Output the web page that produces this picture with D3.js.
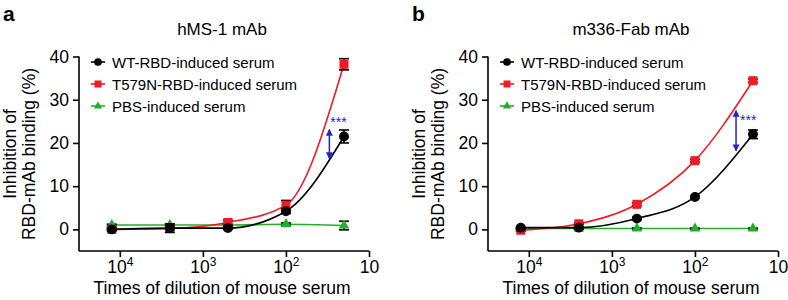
<!DOCTYPE html>
<html lang="en">
<head>
    <meta charset="UTF-8">
    <title>Inhibition of RBD-mAb binding</title>
    <script src="https://d3js.org/d3.v7.min.js"></script>
    <style>
        body, html { margin: 0; padding: 0; background: #fff; overflow: hidden; }
        svg { display: block; font-family: "Liberation Sans", Arial, sans-serif; }
    </style>
</head>
<body>
    <svg width="788" height="300"></svg>
    <script>
        const width = 788, height = 300;

        // dilution factors (5-fold series)
        const dilutions = [12500, 2500, 500, 100, 20];
        const xTicks = [10000, 1000, 100, 10];
        const yTicks = [0, 10, 20, 30, 40];
        const seriesNames = ["WT-RBD-induced serum", "T579N-RBD-induced serum", "PBS-induced serum"];
        const colors = ["#000000", "#ee1c24", "#22b02a"];

        // panel a: hMS-1 mAb
        const aWT = [0.0, 0.3, 0.3, 4.2, 21.5];
        const aWTErr = [0.3, 1.0, 0.3, 0.5, 1.5];
        const aT579N = [0.0, 0.2, 1.6, 5.6, 38.2];
        const aT579NErr = [0.2, 0.3, 0.5, 1.1, 1.3];
        const aPBS = [1.0, 1.0, 1.0, 1.2, 0.9];
        const aPBSErr = [0.2, 0.2, 0.2, 0.3, 1.0];

        // panel b: m336-Fab mAb
        const bWT = [0.4, 0.4, 2.5, 7.5, 22.0];
        const bWTErr = [0.2, 0.2, 0.3, 0.3, 1.0];
        const bT579N = [-0.2, 1.3, 5.8, 15.9, 34.4];
        const bT579NErr = [0.2, 0.2, 0.3, 0.3, 0.4];
        const bPBS = [0.2, 0.2, 0.2, 0.2, 0.2];
        const bPBSErr = [0.1, 0.1, 0.1, 0.1, 0.1];

        // significance arrows: [dilution, low, high, star baseline]
        const aArrow = [30, 16.2, 23.3, 23.7];
        const bArrow = [32, 18.0, 27.7, 24.2];

        const svg = d3.select("svg");

        function drawPanel(ox, letter, title, series, errs, arrow, starDx) {
            const g = svg.append("g").attr("transform", `translate(${ox},0)`);
            const x = d3.scaleLog().domain([31000, 10]).range([79, 369]);
            const y = d3.scaleLinear().domain([-5, 40]).range([251, 56.5]);

            // panel letter and title
            g.append("text").attr("x", 3).attr("y", 21)
                .attr("font-size", 21).attr("font-weight", "bold").text(letter);
            g.append("text").attr("x", 222).attr("y", 35)
                .attr("text-anchor", "middle").attr("font-size", 17).text(title);

            // axes
            const xAxis = g.append("g").attr("transform", "translate(0,251)")
                .call(d3.axisBottom(x).tickValues(xTicks).tickSize(6).tickSizeOuter(0));
            xAxis.selectAll(".tick text").each(function(d) {
                const t = d3.select(this).text(null).attr("y", 22).attr("dy", null)
                    .attr("font-size", 17.5).attr("fill", "#000");
                const p = Math.round(Math.log10(d));
                t.append("tspan").text("10");
                if (p > 1) t.append("tspan").attr("dy", -7).attr("font-size", 12).text(p);
            });
            const yAxis = g.append("g").attr("transform", "translate(79,0)")
                .call(d3.axisLeft(y).tickValues(yTicks).tickSize(6).tickSizeOuter(0).tickPadding(4));
            yAxis.selectAll(".tick text").attr("font-size", 17.5).attr("fill", "#000");
            g.selectAll(".domain, .tick line").attr("stroke", "#000").attr("stroke-width", 1.6);
            xAxis.select(".domain").attr("d", `M79,0H369`);
            yAxis.select(".domain").attr("d", `M0,${y(40)}V251`);

            // axis titles
            g.append("text").attr("x", 222).attr("y", 294)
                .attr("text-anchor", "middle").attr("font-size", 17.5)
                .text("Times of dilution of mouse serum");
            g.append("text").attr("transform", "translate(16,154) rotate(-90)")
                .attr("text-anchor", "middle").attr("font-size", 17.5).text("Inhibition of");
            g.append("text").attr("transform", "translate(35,154) rotate(-90)")
                .attr("text-anchor", "middle").attr("font-size", 17.5).text("RBD-mAb binding (%)");

            const line = d3.line().x((d, i) => x(dilutions[i])).y(d => y(d)).curve(d3.curveMonotoneX);
            const order = [2, 1, 0];

            // curves
            order.forEach(k => {
                g.append("path").datum(series[k]).attr("d", line)
                    .attr("fill", "none").attr("stroke", colors[k]).attr("stroke-width", 1.6);
            });

            // markers
            function marker(sel, k, size) {
                if (k === 0) sel.append("circle").attr("r", size * 0.55).attr("fill", colors[k]);
                else if (k === 1) sel.append("rect").attr("x", -size * 0.5).attr("y", -size * 0.5)
                    .attr("width", size).attr("height", size).attr("fill", colors[k]);
                else sel.append("path").attr("d", d3.symbol(d3.symbolTriangle, size * size * 0.6)).attr("fill", colors[k]);
            }
            order.forEach(k => {
                series[k].forEach((v, i) => {
                    const px = x(dilutions[i]), py = y(v);
                    const e = errs[k][i];
                    const eb = g.append("g").attr("stroke", "#000").attr("stroke-width", 1.6);
                    eb.append("line").attr("x1", px).attr("x2", px).attr("y1", y(v - e)).attr("y2", y(v + e));
                    eb.append("line").attr("x1", px - 5).attr("x2", px + 5).attr("y1", y(v + e)).attr("y2", y(v + e));
                    eb.append("line").attr("x1", px - 5).attr("x2", px + 5).attr("y1", y(v - e)).attr("y2", y(v - e));
                    marker(g.append("g").attr("transform", `translate(${px},${py})`), k, 9);
                });
            });

            // legend
            seriesNames.forEach((name, k) => {
                const ly = 62 + k * 22;
                const lg = g.append("g").attr("transform", `translate(98,${ly})`);
                lg.append("line").attr("x1", -7).attr("x2", 7).attr("stroke", colors[k]).attr("stroke-width", 1.6);
                marker(lg, k, 7);
                lg.append("text").attr("x", 14).attr("y", 5.5).attr("font-size", 15).text(name);
            });

            // significance arrow
            const blue = "#2424c8";
            const ax = x(arrow[0]), y1 = y(arrow[1]), y2 = y(arrow[2]);
            g.append("line").attr("x1", ax).attr("x2", ax).attr("y1", y1 - 1).attr("y2", y2 + 1)
                .attr("stroke", blue).attr("stroke-width", 1.5);
            g.append("path").attr("d", `M${ax},${y2}l-3.5,7h7z`).attr("fill", blue);
            g.append("path").attr("d", `M${ax},${y1}l-3.5,-7h7z`).attr("fill", blue);
            g.append("text").attr("x", ax + starDx).attr("y", y(arrow[3]))
                .attr("font-size", 14).attr("fill", blue).text("***");
        }

        drawPanel(0, "a", "hMS-1 mAb", [aWT, aT579N, aPBS], [aWTErr, aT579NErr, aPBSErr], aArrow, 1);
        drawPanel(409, "b", "m336-Fab mAb", [bWT, bT579N, bPBS], [bWTErr, bT579NErr, bPBSErr], bArrow, 4);
    </script>
</body>
</html>
